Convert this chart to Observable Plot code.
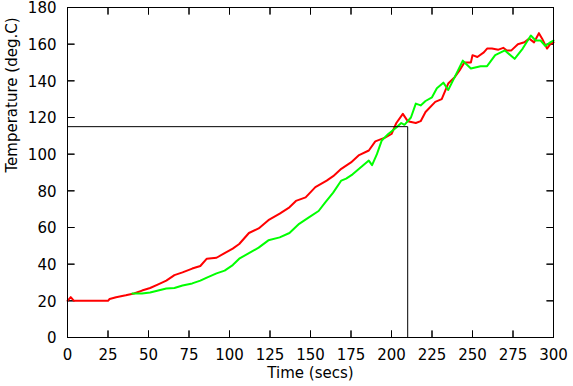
<!DOCTYPE html>
<html>
<head>
<meta charset="utf-8">
<script src="https://cdn.jsdelivr.net/npm/d3@7"></script>
<script src="https://cdn.jsdelivr.net/npm/@observablehq/plot@0.6"></script>
<style>
  html, body { margin: 0; padding: 0; background: #fff; }
  #chart svg { display: block; }
</style>
</head>
<body>
<div id="chart"></div>
<script>
const redTime = [0,2,4,25,26,30,36,41,46,51,56,61,66,71,77,82,86,92,97,102,106,112,118,124,131,137,141,147,153,160,164,169,175,180,186,190,196,200,203,207,210,215,218,221,227,231,235,239,242,245,249,250,253,257,259,262,266,269,271,274,278,282,285,288,291,293,296,298,300];
const redTemp = [20,22,20,20,21,22,23,24,25.6,27,29,31,34,35.5,37.6,39,43,43.5,46,48.5,51,57,59.5,64,67.6,71,74.5,76.4,82,85.6,88,92,95.5,99.5,102,107,109,111,117,122,118,117,118,123,128.5,130,138.5,142,145.7,150,150,154,153,155.5,157.6,157.6,157,158,156.6,156.6,160,161,163,161,166,163,157.6,160,161];

const greenTime = [40,46,51,56,61,66,71,77,82,86,92,97,102,106,112,118,124,131,137,143,149,155,159,164,169,172,176,180,186,188,191,194,198,203,206,208,212,215,218,221,225,228,232,235,239,244,249,255,259,264,270,276,281,286,289,292,295,298,300];
const greenTemp = [24,24,24.5,25.6,26.7,27,28.4,29.5,31,32.7,35,36.5,39.5,43,46,49,53,54.6,57,62,65.5,69,73.6,79,85.6,86.7,89,92,96.5,94,100,107.5,111,114.5,117,116,120,127.6,126.6,129,131,136,139,135,142,151,146.7,148,148,154,156.6,152,157.6,164.7,162,162,159,161,162];

const markerTime = [0, 210, 210];
const markerTemp = [115, 115, 0];

const xTicks = [0,25,50,75,100,125,150,175,200,225,250,275,300];
const yTicks = [0,20,40,60,80,100,120,140,160,180];

const red = redTime.map((t, i) => ({t, v: redTemp[i]}));
const green = greenTime.map((t, i) => ({t, v: greenTemp[i]}));
const marker = markerTime.map((t, i) => ({t, v: markerTemp[i]}));

const font = "DejaVu Sans, sans-serif";

const chart = Plot.plot({
  width: 573,
  height: 386,
  marginLeft: 67,
  marginRight: 20,
  marginTop: 7,
  marginBottom: 49,
  style: {fontFamily: font, fontSize: "15px", background: "#fff", color: "#000"},
  x: {domain: [0, 300]},
  y: {domain: [0, 180]},
  marks: [
    Plot.axisX({ticks: xTicks, tickSize: 0, tickPadding: 12, label: null, fontSize: 15}),
    Plot.axisY({ticks: yTicks, tickSize: 0, tickPadding: 11, dy: 1, label: null, fontSize: 15}),
    Plot.vector(xTicks, {x: d => d, y: 0, length: 7, rotate: 0, anchor: "start", stroke: "#000", strokeWidth: 1, shape: "spike", r: 0}),
    Plot.vector(xTicks, {x: d => d, y: 180, length: 7, rotate: 180, anchor: "start", stroke: "#000", strokeWidth: 1, shape: "spike", r: 0}),
    Plot.vector(yTicks, {x: 0, y: d => d, length: 7, rotate: 90, anchor: "start", stroke: "#000", strokeWidth: 1, shape: "spike", r: 0}),
    Plot.vector(yTicks, {x: 300, y: d => d, length: 7, rotate: 270, anchor: "start", stroke: "#000", strokeWidth: 1, shape: "spike", r: 0}),
    Plot.line(red, {x: "t", y: "v", stroke: "#ff0000", strokeWidth: 2}),
    Plot.line(green, {x: "t", y: "v", stroke: "#00ff00", strokeWidth: 2}),
    Plot.line(marker, {x: "t", y: "v", stroke: "#000", strokeWidth: 1}),
    Plot.frame({stroke: "#000", strokeWidth: 1}),
    Plot.text(["Time (secs)"], {frameAnchor: "bottom", dy: 40, fontSize: 15, fill: "#000"}),
    Plot.text(["Temperature (deg.C)"], {frameAnchor: "left", dx: -55, rotate: -90, fontSize: 15, fill: "#000"})
  ]
});
document.getElementById("chart").appendChild(chart);
</script>
</body>
</html>
